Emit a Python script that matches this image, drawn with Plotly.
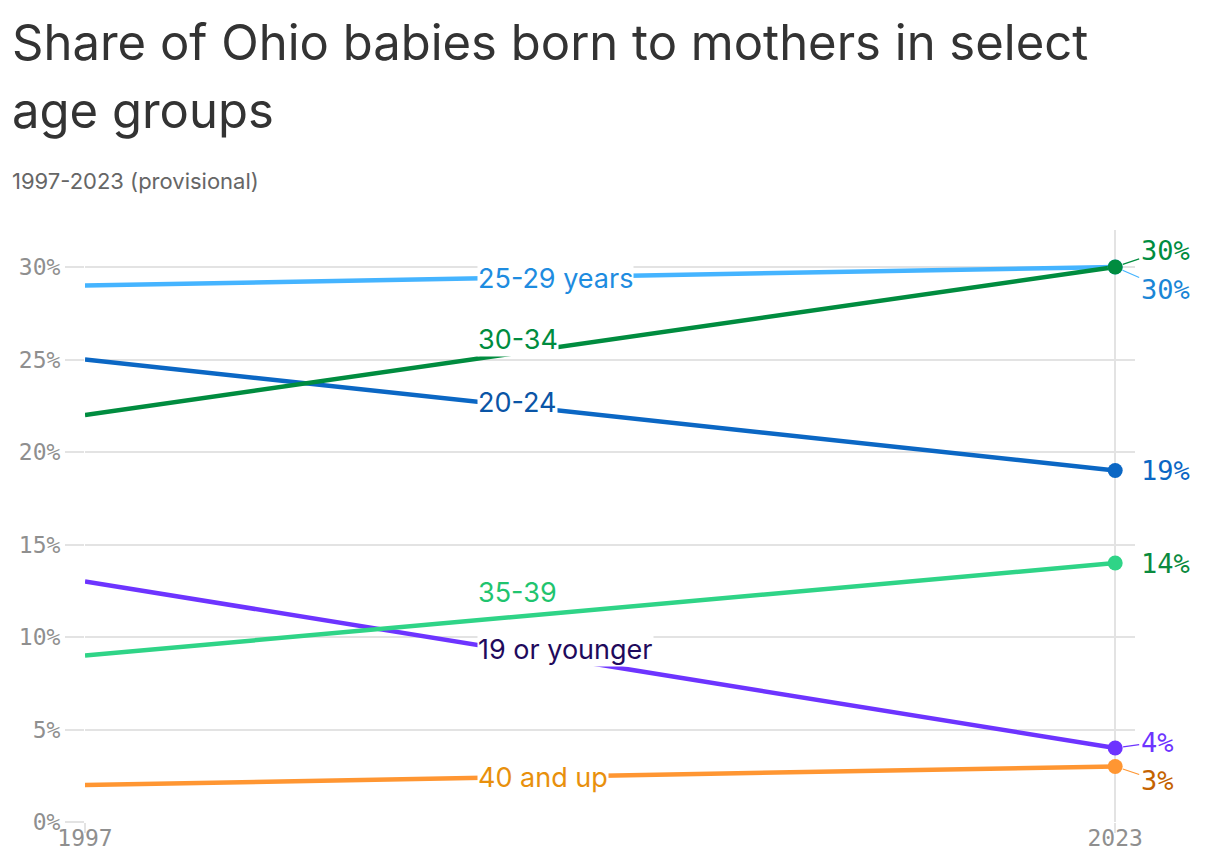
import plotly.graph_objects as go

# data
years = [1997, 2023]
groups = ["25-29 years", "30-34", "20-24", "35-39", "19 or younger", "40 and up"]
shares = {
    "25-29 years": [29, 30],
    "30-34": [22, 30],
    "20-24": [25, 19],
    "35-39": [9, 14],
    "19 or younger": [13, 4],
    "40 and up": [2, 3],
}
y_ticks = [0, 5, 10, 15, 20, 25, 30]

# style per group: line colour, inline label colour, end label colour
line_colors = {
    "25-29 years": "#45b4ff",
    "30-34": "#008c3f",
    "20-24": "#0b67c4",
    "35-39": "#2fd487",
    "19 or younger": "#6d34ff",
    "40 and up": "#ff9632",
}
label_colors = {
    "25-29 years": "#1e8ce0",
    "30-34": "#008c3f",
    "20-24": "#0a55a6",
    "35-39": "#1fc46f",
    "19 or younger": "#1f0a5c",
    "40 and up": "#e8900c",
}
end_colors = {
    "25-29 years": "#1a86d6",
    "30-34": "#008c3f",
    "20-24": "#0b67c4",
    "35-39": "#0a8a3e",
    "19 or younger": "#6d34ff",
    "40 and up": "#c46200",
}
# inline label placement (year, share)
label_pos = {
    "25-29 years": (2006.9, 29.4),
    "30-34": (2006.9, 26.1),
    "20-24": (2006.9, 22.7),
    "35-39": (2006.9, 12.4),
    "19 or younger": (2006.9, 9.3),
    "40 and up": (2006.9, 2.4),
}
# end label pixel offsets (dx, dy) and whether a leader is drawn
end_offset = {
    "25-29 years": (50, 22, True),
    "30-34": (50, -17, True),
    "20-24": (50, 0, False),
    "35-39": (50, 0, False),
    "19 or younger": (42, -6, True),
    "40 and up": (42, 14, True),
}

sans = "Inter, 'Noto Sans', sans-serif"
mono = "'DejaVu Sans Mono', 'Liberation Mono', monospace"

fig = go.Figure()

draw_order = ["40 and up", "19 or younger", "35-39", "20-24", "25-29 years", "30-34"]
for g in draw_order:
    fig.add_trace(go.Scatter(
        x=years, y=shares[g], mode="lines",
        line=dict(color=line_colors[g], width=4.5),
        hoverinfo="skip", showlegend=False,
    ))
for g in draw_order:
    fig.add_trace(go.Scatter(
        x=[years[-1]], y=[shares[g][-1]], mode="markers",
        marker=dict(color=line_colors[g], size=15),
        hoverinfo="skip", showlegend=False,
    ))

for g in groups:
    lx, ly = label_pos[g]
    fig.add_annotation(
        x=lx, y=ly, text=g, showarrow=False, xanchor="left", yanchor="middle",
        font=dict(family=sans, size=27, color=label_colors[g]),
        bgcolor="white", borderpad=0,
    )
    dx, dy, lead = end_offset[g]
    fig.add_annotation(
        x=years[-1], y=shares[g][-1], text=f"{shares[g][-1]}%",
        showarrow=True, ax=dx, ay=dy, arrowhead=0, arrowwidth=1.2,
        arrowcolor=line_colors[g] if lead else "rgba(0,0,0,0)",
        standoff=8, startstandoff=0,
        font=dict(family=mono, size=27, color=end_colors[g]),
    )

# title and subtitle, placed in pixels above the plot area (592 px tall)
title_lines = ["Share of Ohio babies born to mothers in select", "age groups"]
for i, t in enumerate(title_lines):
    fig.add_annotation(
        x=-75 / 1050, y=1 + (187 - 68 * i) / 592, xref="paper", yref="paper",
        text=t, showarrow=False, xanchor="left", yanchor="middle",
        font=dict(family=sans, size=49, color="#333333"),
    )
fig.add_annotation(
    x=-75 / 1050, y=1 + 49 / 592, xref="paper", yref="paper",
    text="1997-2023 (provisional)", showarrow=False, xanchor="left", yanchor="middle",
    font=dict(family=sans, size=22, color="#666666"),
)

# the page adds an 8px body margin, so the figure is 8px smaller on each side
fig.update_layout(
    width=1212, height=856,
    margin=dict(l=77, r=85, t=222, b=42),
    plot_bgcolor="white", paper_bgcolor="white",
    xaxis=dict(
        range=[1997, 2023.5], tickvals=years, ticktext=[str(y) for y in years],
        showgrid=True, gridcolor="#e3e3e3", gridwidth=2, zeroline=False,
        ticks="outside", ticklen=10, tickcolor="#e3e3e3", tickwidth=2,
        ticklabelstandoff=-15,
        tickfont=dict(family=mono, size=23, color="#8f8f8f"),
        showline=False, fixedrange=True, automargin=False,
    ),
    yaxis=dict(
        range=[0, 32], tickvals=y_ticks, ticktext=[f"{v}%" for v in y_ticks],
        showgrid=True, gridcolor="#e3e3e3", gridwidth=2, zeroline=False,
        ticks="outside", ticklen=19, tickcolor="#e3e3e3", tickwidth=2,
        tickfont=dict(family=mono, size=23, color="#8f8f8f"),
        showline=False, fixedrange=True, automargin=False,
    ),
)

fig.write_html("out.html")
